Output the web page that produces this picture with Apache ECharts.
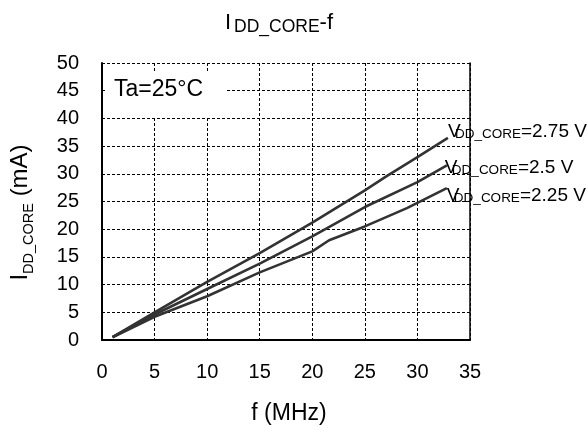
<!DOCTYPE html>
<html>
<head>
<meta charset="utf-8">
<script src="https://cdn.jsdelivr.net/npm/echarts@6/dist/echarts.min.js"></script>
<style>html,body{margin:0;padding:0;background:#fff}#c{width:588px;height:430px}</style>
</head>
<body>
<div id="c"></div>
<script>
var xTicks = [0, 5, 10, 15, 20, 25, 30, 35];
var yTicks = [0, 5, 10, 15, 20, 25, 30, 35, 40, 45, 50];
var seriesNames = ['2.75 V', '2.5 V', '2.25 V'];
var v275 = [[1,0.5],[5,5.0],[10,10.5],[15,15.7],[20,21.2],[25,27.0],[27,29.5],[30,33.0],[32.9,36.5]];
var v250 = [[1,0.5],[5,4.6],[10,9.2],[15,13.8],[20,18.7],[25,24.0],[30,28.5],[32.8,31.5]];
var v225 = [[1,0.5],[5,4.2],[10,7.9],[15,12.2],[20,16.0],[21.6,18.0],[25,20.5],[29,23.8],[32.8,27.4]];
var allData = [v275, v250, v225];

var FONT = 'Liberation Sans, Arial, sans-serif';
var labelOffsets = [[0, -6], [-2, 2.5], [0, 8]];
var chart = echarts.init(document.getElementById('c'), null, {renderer: 'canvas'});
function subRich(big, small, lh) {
  return {
    b: {fontSize: big, fontFamily: FONT, color: '#000', lineHeight: lh, verticalAlign: 'top', fontWeight: 'normal'},
    v: {fontSize: big, fontFamily: FONT, color: '#000', lineHeight: lh, verticalAlign: 'top', fontWeight: 'normal', width: 7, align: 'left'},
    i: {fontSize: big, fontFamily: FONT, color: '#000', lineHeight: lh, verticalAlign: 'top', fontWeight: 'normal', padding: [0, 3, 0, 0]},
    s: {fontSize: small, fontFamily: FONT, color: '#000', lineHeight: lh, verticalAlign: 'bottom', fontWeight: 'normal'}
  };
}
chart.setOption({
  animation: false,
  backgroundColor: '#fff',
  title: {
    text: '{i|I}{s|DD_CORE}{b|-f}',
    left: 274, top: 7, textAlign: 'center',
    textStyle: {rich: subRich(22, 17.5, 24)}
  },
  grid: {left: 100, right: 118, top: 63, bottom: 89},
  xAxis: {
    type: 'value', min: 0, max: 35, interval: 5,
    name: 'f (MHz)', nameLocation: 'middle', nameGap: 62,
    nameTextStyle: {fontSize: 23, fontFamily: FONT, color: '#000', padding: [0, 0, 0, 6]},
    axisLine: {show: true, lineStyle: {color: '#000', width: 2}},
    axisTick: {show: false},
    axisLabel: {fontSize: 20, fontFamily: FONT, color: '#000', margin: 22},
    splitLine: {show: true, lineStyle: {color: '#000', type: [3, 2], width: 1}}
  },
  yAxis: [{
    type: 'value', min: 0, max: 50, interval: 5,
    name: '{b|I}{s|DD_CORE}{b|\u00a0(mA)}', nameLocation: 'middle', nameGap: 66, nameRotate: 90,
    nameTextStyle: {rich: subRich(24, 14.5, 28), padding: [0, 22, 0, 0]},
    axisLine: {show: true, lineStyle: {color: '#000', width: 2}},
    axisTick: {show: false},
    axisLabel: {fontSize: 20, fontFamily: FONT, color: '#000', margin: 23},
    splitLine: {show: true, lineStyle: {color: '#000', type: [3, 2], width: 1}}
  }, {
    type: 'value', min: 0, max: 50, interval: 5, position: 'right',
    axisLine: {show: true, onZero: false, lineStyle: {color: '#000', width: 1.5}},
    axisTick: {show: false}, axisLabel: {show: false}, splitLine: {show: false}
  }],
  graphic: [{
    type: 'rect', left: 107, top: 73, z: 50,
    shape: {width: 120, height: 45},
    style: {fill: '#fff'}
  }, {
    type: 'text', left: 114, top: 78, z: 51,
    style: {text: 'Ta=25\u00b0C', font: '23px ' + FONT, fill: '#000'}
  }],
  series: seriesNames.map(function (n, i) {
    return {
      type: 'line', name: n, data: allData[i], showSymbol: false, symbol: 'none',
      lineStyle: {color: '#333', width: 2.6}, z: 60,
      endLabel: {
        show: true, distance: 0, offset: labelOffsets[i],
        formatter: '{v|V}{s|DD_CORE}{b|=' + n + '}',
        rich: subRich(19, 13.5, 19)
      }
    };
  })
});
</script>
</body>
</html>
